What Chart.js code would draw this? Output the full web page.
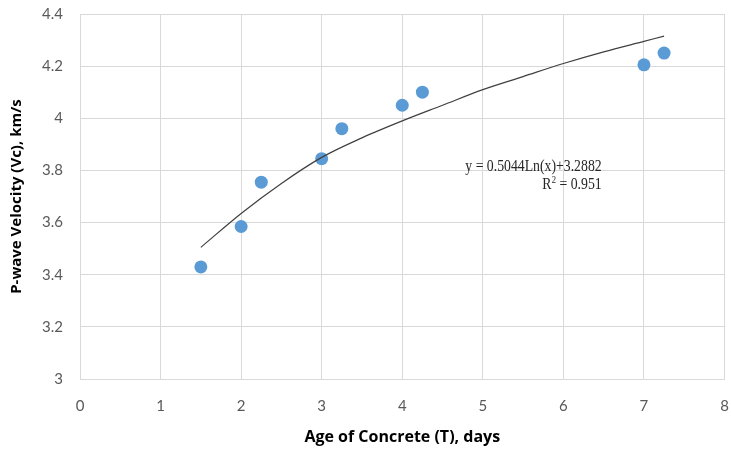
<!DOCTYPE html>
<html>
<head>
<meta charset="utf-8">
<script src="https://cdn.jsdelivr.net/npm/chart.js@4"></script>
<style>
  html, body { margin: 0; padding: 0; background: #fff; }
  #wrap { width: 731px; height: 450px; }
</style>
</head>
<body>
<div id="wrap"><canvas id="myChart"></canvas></div>
<script>
const ageDays = [1.5, 2, 2.25, 3, 3.25, 4, 4.25, 7, 7.25];
const velocity = [3.43, 3.585, 3.755, 3.845, 3.96, 4.05, 4.1, 4.205, 4.25];

// trendline
const trendX = [1.5, 2, 2.5, 3, 3.5, 4, 4.5, 5, 5.5, 6, 6.5, 7, 7.25];
const trendY = [3.505, 3.635, 3.75, 3.85, 3.925, 3.99, 4.05, 4.11, 4.16, 4.21, 4.255, 4.295, 4.315];

const equationText = ["y = 0.5044Ln(x)+3.2882", "R", "2", " = 0.951"];

const equationLabel = {
  id: "equationLabel",
  afterDatasetsDraw(chart) {
    const ctx = chart.ctx;
    const xs = chart.scales.x, ys = chart.scales.y;
    const right = xs.getPixelForValue(6.475);
    const y1 = ys.getPixelForValue(3.813);
    const y2 = ys.getPixelForValue(3.744);
    ctx.save();
    ctx.fillStyle = "#262626";
    ctx.textBaseline = "middle";
    ctx.textAlign = "right";
    ctx.translate(right, 0);
    // squeeze a bit to match the narrower original face
    ctx.scale(0.86, 1);
    ctx.font = "16px 'Liberation Serif'";
    ctx.fillText(equationText[0], 0, y1);
    ctx.fillText(equationText[3], 0, y2);
    let x = -ctx.measureText(equationText[3]).width;
    ctx.font = "10px 'Liberation Serif'";
    const supW = ctx.measureText(equationText[2]).width;
    ctx.fillText(equationText[2], x, y2 - 5);
    x -= supW + 0.5;
    ctx.font = "16px 'Liberation Serif'";
    ctx.fillText(equationText[1], x, y2);
    ctx.restore();
  },
};

const gridColor = "#d9d9d9";
const tickFont = { family: "Lato", size: 15 };

const data = {
  datasets: [
    {
      label: "Trend",
      data: trendX.map((x, i) => ({ x: x, y: trendY[i] })),
      showLine: true,
      borderColor: "#404040",
      borderWidth: 1.2,
      pointRadius: 0,
      cubicInterpolationMode: "monotone",
    },
    {
      label: "Measured",
      data: ageDays.map((x, i) => ({ x: x, y: velocity[i] })),
      backgroundColor: "#5b9bd5",
      borderWidth: 0,
      pointRadius: 6.5,
    },
  ],
};

const config = {
  type: "scatter",
  data: data,
  options: {
    animation: false,
    responsive: true,
    maintainAspectRatio: false,
    layout: { padding: { top: 14, right: 5, left: 0, bottom: 0 } },
    plugins: {
      legend: { display: false },
      tooltip: { enabled: false },
    },
    scales: {
      x: {
        min: 0,
        max: 8,
        ticks: { stepSize: 1, color: "#595959", font: tickFont, padding: 18 },
        grid: { color: gridColor, drawTicks: false },
        border: { color: gridColor },
        title: {
          display: true,
          text: "Age of Concrete (T), days",
          color: "#000",
          font: { family: "Open Sans", size: 16, weight: "bold" },
          padding: { top: 0, bottom: 3 },
        },
        afterFit(scale) {
          scale.height = 71;
          scale.paddingLeft = 0;
          scale.paddingRight = 0;
        },
      },
      y: {
        min: 3,
        max: 4.4,
        ticks: {
          stepSize: 0.2,
          color: "#595959",
          font: tickFont,
          padding: 17,
          callback: (v) => String(Number(v.toFixed(1))),
        },
        grid: { color: gridColor, drawTicks: false },
        border: { color: gridColor },
        title: {
          display: true,
          text: "P-wave Velocity (Vc), km/s",
          color: "#000",
          font: { family: "Open Sans", size: 15, weight: "bold" },
          padding: { top: 8, bottom: 0 },
        },
        afterFit(scale) {
          scale.width = 80;
          scale.paddingTop = 0;
          scale.paddingBottom = 0;
        },
      },
    },
  },
  plugins: [equationLabel],
};

const myChart = new Chart(document.getElementById("myChart"), config);
</script>
</body>
</html>
